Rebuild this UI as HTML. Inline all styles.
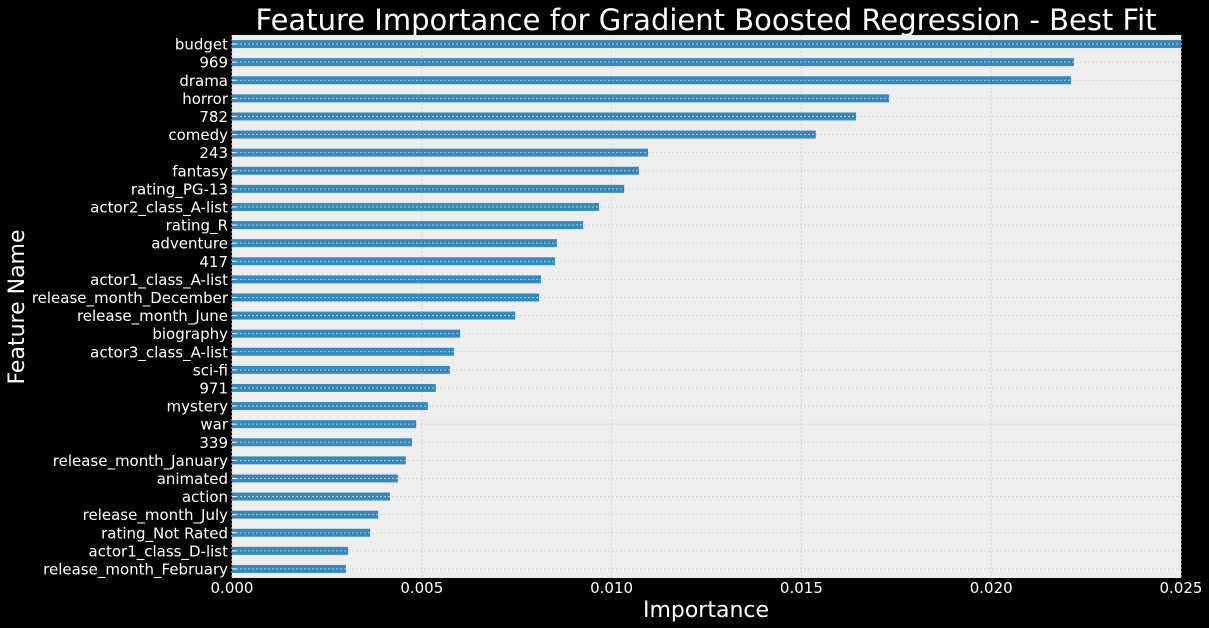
<!DOCTYPE html>
<html><head><meta charset="utf-8"><style>
html,body{margin:0;padding:0;background:#000;}
svg{display:block;font-family:"DejaVu Sans","Liberation Sans",sans-serif;}
</style></head><body>
<svg id="chart" width="1209" height="628" viewBox="0 0 1209 628">
<rect width="1209" height="628" fill="#000"/>
<text x="706" y="30" fill="#fff" font-size="29" text-anchor="middle">Feature Importance for Gradient Boosted Regression - Best Fit</text>
<rect x="232" y="35" width="949" height="543" fill="#eeeeee"/>
<g id="grid"></g><g id="bars"></g><g id="ylab"></g><g id="xlab"></g>
<text x="706" y="617" fill="#fff" font-size="22" text-anchor="middle">Importance</text>
<text transform="translate(24,307) rotate(-90)" fill="#fff" font-size="22" text-anchor="middle">Feature Name</text>
</svg>
<script>
const features=["budget","969","drama","horror","782","comedy","243","fantasy","rating_PG-13","actor2_class_A-list","rating_R","adventure","417","actor1_class_A-list","release_month_December","release_month_June","biography","actor3_class_A-list","sci-fi","971","mystery","war","339","release_month_January","animated","action","release_month_July","rating_Not Rated","actor1_class_D-list","release_month_February"];
const importance=[0.0250,0.02218,0.0221,0.01731,0.01644,0.01538,0.01096,0.01072,0.01033,0.00967,0.00925,0.00856,0.00851,0.00814,0.00809,0.00746,0.00601,0.00585,0.00574,0.00537,0.00516,0.00485,0.00474,0.00458,0.00437,0.00416,0.00385,0.00364,0.00306,0.00300];
const xTicks=[0,0.005,0.010,0.015,0.020,0.025];
const xTickLabels=["0.000","0.005","0.010","0.015","0.020","0.025"];
const NS="http://www.w3.org/2000/svg";
const L=232,R=1181,T=35,B=578;
const n=features.length;
const step=(B-T)/n;
const x=v=>L+(v/0.025)*(R-L);
const y=i=>T+step*(i+0.5);
function mk(t,a,p){const e=document.createElementNS(NS,t);for(const k in a)e.setAttribute(k,a[k]);document.getElementById(p).appendChild(e);return e;}
xTicks.forEach((t,i)=>{
  const g=mk("line",{x1:x(t),x2:x(t),y1:T,y2:B,stroke:"#d6d6d6","stroke-dasharray":"2,2","stroke-width":1},"grid");
  
  
  const tl=mk("text",{x:x(t),y:B+15,fill:"#fff","font-size":15,"text-anchor":"middle"},"xlab");
  tl.textContent=xTickLabels[i];
  
  
});
features.forEach((f,i)=>{
  const b=mk("rect",{x:L,y:y(i)-step*0.22,width:Math.min(x(importance[i]),R)-L,height:step*0.44,fill:"#348ABD"},"bars");
  
  
  const g=mk("line",{x1:L,x2:R,y1:y(i),y2:y(i),stroke:"#d0d0d0","stroke-dasharray":"2,2","stroke-width":0.8},"bars");
  
  
  const tk=mk("line",{x1:L,x2:L+4,y1:y(i),y2:y(i),stroke:"#fff","stroke-width":1},"bars");
  
  
  const t=mk("text",{x:L-4,y:y(i)+5.5,fill:"#fff","font-size":15,"text-anchor":"end"},"ylab");
  t.textContent=f;
  
  
});
</script>
</body></html>
